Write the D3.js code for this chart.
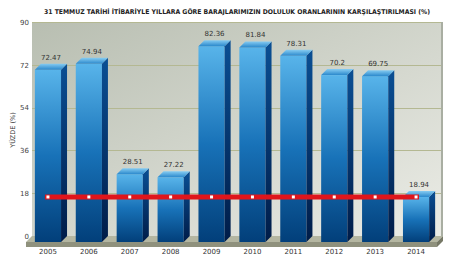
<!DOCTYPE html>
<html>
<head>
<meta charset="utf-8">
<script src="https://cdn.jsdelivr.net/npm/d3@7"></script>
<style>
  body { margin: 0; background: #fff; }
  text { font-family: "DejaVu Sans", Verdana, sans-serif; }
</style>
</head>
<body>
<div class="canvas"></div>
<script>
// chart data
const years = ['2005', '2006', '2007', '2008', '2009', '2010', '2011', '2012', '2013', '2014'];
const values = [72.47, 74.94, 28.51, 27.22, 82.36, 81.84, 78.31, 70.2, 69.75, 18.94];
const refValue = 18.94; // red line = 2014 level
const yTicks = [0, 18, 36, 54, 72, 90];
const title = '31 TEMMUZ TARİHİ İTİBARİYLE YILLARA GÖRE BARAJLARIMIZIN DOLULUK ORANLARININ KARŞILAŞTIRILMASI (%)';

const width = 457, height = 260;
const depth = 6; // 3d offset

const svg = d3.select('.canvas')
  .append('svg')
  .attr('width', width)
  .attr('height', height);

const defs = svg.append('defs');

// gradients
const wallGrad = defs.append('linearGradient').attr('id', 'wall')
  .attr('x1', 0).attr('y1', 0).attr('x2', 1).attr('y2', 1);
wallGrad.append('stop').attr('offset', '0%').attr('stop-color', '#b8beb1');
wallGrad.append('stop').attr('offset', '100%').attr('stop-color', '#ebece6');

const frontGrad = defs.append('linearGradient').attr('id', 'front')
  .attr('x1', 0).attr('y1', 0).attr('x2', 0).attr('y2', 1);
frontGrad.append('stop').attr('offset', '0%').attr('stop-color', '#58b4ea');
frontGrad.append('stop').attr('offset', '50%').attr('stop-color', '#1872b8');
frontGrad.append('stop').attr('offset', '100%').attr('stop-color', '#023f7a');

const sideGrad = defs.append('linearGradient').attr('id', 'side')
  .attr('x1', 0).attr('y1', 0).attr('x2', 0).attr('y2', 1);
sideGrad.append('stop').attr('offset', '0%').attr('stop-color', '#0a4f94');
sideGrad.append('stop').attr('offset', '100%').attr('stop-color', '#001c48');

const topGrad = defs.append('linearGradient').attr('id', 'top')
  .attr('x1', 0).attr('y1', 0).attr('x2', 0).attr('y2', 1);
topGrad.append('stop').attr('offset', '0%').attr('stop-color', '#86ccf2');
topGrad.append('stop').attr('offset', '100%').attr('stop-color', '#2a88cc');

// scales (y is in the back wall plane, x is the front plane)
const wallLeft = 32, wallRight = 443;
const y = d3.scaleLinear().domain([0, 90]).range([236, 22]);
const x = d3.scaleBand()
  .domain(years)
  .range([27.5, 436.5])
  .paddingInner(0.36)
  .paddingOuter(0.18);
const bw = x.bandwidth();

// back wall
svg.append('rect')
  .attr('x', wallLeft)
  .attr('y', y(90))
  .attr('width', wallRight - wallLeft)
  .attr('height', y(0) - y(90))
  .attr('fill', 'url(#wall)');
svg.append('rect')
  .attr('x', wallRight - 2)
  .attr('y', y(90))
  .attr('width', 2)
  .attr('height', y(0) - y(90))
  .attr('fill', '#a9aea2');

// grid lines
svg.append('g').selectAll('line')
  .data(yTicks.slice(1))
  .enter().append('line')
  .attr('x1', wallLeft).attr('x2', wallRight - 2)
  .attr('y1', d => Math.round(y(d)) + 0.5)
  .attr('y2', d => Math.round(y(d)) + 0.5)
  .attr('stroke', '#b4b892');

// y axis labels
const yAxis = d3.axisLeft(y).tickValues(yTicks).tickSize(0).tickPadding(0);
const yAxisGroup = svg.append('g')
  .attr('transform', `translate(${wallLeft - 3}, 0)`)
  .call(yAxis);
yAxisGroup.select('.domain').remove();
yAxisGroup.selectAll('text')
  .attr('font-size', 7)
  .attr('fill', '#444')
  .attr('font-family', '"DejaVu Sans", sans-serif');

// floor
const fl = wallLeft - depth, fr = wallRight - depth, fy = y(0) + depth;
svg.append('polygon')
  .attr('points', [[wallLeft, y(0)], [wallRight, y(0)], [fr, fy], [fl, fy]].join(' '))
  .attr('fill', '#b4b6a1');
svg.append('polygon')
  .attr('points', [[fl, fy], [fr, fy], [fr, fy + 5], [fl, fy + 5]].join(' '))
  .attr('fill', '#8f917d');
svg.append('polygon')
  .attr('points', [[fr, fy], [wallRight, y(0)], [wallRight, y(0) + 5], [fr, fy + 5]].join(' '))
  .attr('fill', '#767866');

// bars
const bars = svg.append('g').selectAll('g')
  .data(values.map((v, i) => ({ year: years[i], value: v })))
  .enter().append('g');

bars.append('rect')
  .attr('x', d => x(d.year))
  .attr('y', d => y(d.value) + depth)
  .attr('width', bw)
  .attr('height', d => y(0) - y(d.value))
  .attr('fill', 'url(#front)');

bars.append('polygon')
  .attr('points', d => {
    const x0 = x(d.year) + bw, t = y(d.value);
    return [[x0, t + depth], [x0 + depth, t], [x0 + depth, y(0)], [x0, y(0) + depth]].join(' ');
  })
  .attr('fill', 'url(#side)');

bars.append('polygon')
  .attr('points', d => {
    const x0 = x(d.year), t = y(d.value);
    return [[x0, t + depth], [x0 + depth, t], [x0 + bw + depth, t], [x0 + bw, t + depth]].join(' ');
  })
  .attr('fill', 'url(#top)');

// value labels
bars.append('text')
  .attr('x', d => x(d.year) + bw / 2 + depth / 2)
  .attr('y', d => y(d.value) - 4)
  .attr('text-anchor', 'middle')
  .attr('font-size', 7)
  .attr('fill', '#333')
  .text(d => d.value);

// red reference line with dots
const lineY = y(refValue) + depth;
svg.append('line')
  .attr('x1', x(years[0]) + bw / 2 - 3)
  .attr('x2', x(years[years.length - 1]) + bw / 2 + 3)
  .attr('y1', lineY).attr('y2', lineY)
  .attr('stroke', '#e0151b')
  .attr('stroke-width', 5);
svg.append('g').selectAll('rect')
  .data(years)
  .enter().append('rect')
  .attr('x', d => x(d) + bw / 2 - 1.5)
  .attr('y', lineY - 1.5)
  .attr('width', 3).attr('height', 3)
  .attr('fill', '#fff');

// x axis labels
const xAxis = d3.axisBottom(x).tickSize(0).tickPadding(0);
const xAxisGroup = svg.append('g')
  .attr('transform', `translate(0, 249)`)
  .call(xAxis);
xAxisGroup.select('.domain').remove();
xAxisGroup.selectAll('text')
  .attr('font-size', 7)
  .attr('fill', '#333')
  .attr('font-family', '"DejaVu Sans", sans-serif');

// title
svg.append('text')
  .attr('x', 237)
  .attr('y', 14)
  .attr('text-anchor', 'middle')
  .attr('font-size', 6.5)
  .attr('font-weight', 'bold')
  .attr('fill', '#222')
  .attr('textLength', 386)
  .attr('lengthAdjust', 'spacingAndGlyphs')
  .text(title);

// y axis title
svg.append('text')
  .attr('transform', 'translate(15, 130) rotate(-90)')
  .attr('text-anchor', 'middle')
  .attr('font-size', 6.5)
  .attr('font-weight', 'normal')
  .attr('fill', '#333')
  .text('YÜZDE (%)');
</script>
</body>
</html>
